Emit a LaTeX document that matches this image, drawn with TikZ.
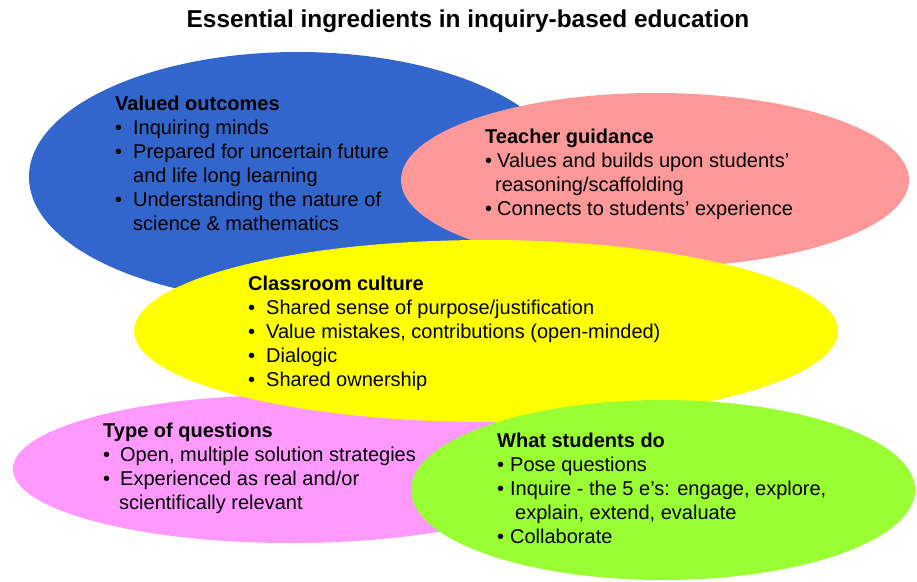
\documentclass[tikz,border=0pt]{standalone}
\usepackage{fontspec}
\setmainfont{Liberation Sans}
\usepackage{xcolor}
\usepackage{tikz}
\usetikzlibrary{shapes.geometric}

\definecolor{outcomeblue}{HTML}{3366CC}
\definecolor{guidepink}{HTML}{FF9999}
\definecolor{cultureyellow}{HTML}{FFFF00}
\definecolor{questionpink}{HTML}{FF99FF}
\definecolor{studentgreen}{HTML}{99FF33}

% bullet with its own gap before the text
\newcommand{\bul}[1][18pt]{\makebox[#1][l]{\textbullet}}

\begin{document}
\begin{tikzpicture}[
        x=1pt,
        y=-1pt,
        blob/.style={ellipse, draw=none, inner sep=0pt},
        txt/.style={anchor=north west, align=left, inner sep=0pt,
            font=\fontsize{20}{24}\selectfont}
    ]

        \useasboundingbox (0,0) rectangle (917,581);

        % =================================
        % ELLIPSES (back to front)
        % =================================

        % valued outcomes
        \node[blob, fill=outcomeblue, minimum width=538pt, minimum height=250pt]
            (outcomes) at (298,177) {};

        % teacher guidance
        \node[blob, fill=guidepink, minimum width=508pt, minimum height=174pt]
            (guidance) at (655,180) {};

        % type of questions
        \node[blob, fill=questionpink, minimum width=556pt, minimum height=148pt]
            (questions) at (291,469) {};

        % classroom culture
        \node[blob, fill=cultureyellow, minimum width=704pt, minimum height=182pt]
            (culture) at (486,331) {};

        % what students do
        \node[blob, fill=studentgreen, minimum width=504pt, minimum height=180pt]
            (students) at (663,490) {};


        % =================================
        % TITLE
        % =================================

        \node[anchor=base, font=\bfseries\fontsize{24.4}{29}\selectfont]
            (title) at (468,27) {Essential ingredients in inquiry-based education};


        % =================================
        % TEXTS
        % =================================

        \node[txt] (outcomestxt) at (115,93.2) {%
            \textbf{Valued outcomes}\strut\\
            \bul Inquiring minds\\
            \bul Prepared for uncertain future\\
            \hspace*{18pt}and life long learning\\
            \bul Understanding the nature of\\
            \hspace*{18pt}science \& mathematics};

        \node[txt] (guidancetxt) at (485,126.2) {%
            \textbf{Teacher guidance}\strut\\
            \bul[12pt]Values and builds upon students’\\
            \hspace*{10pt}reasoning/scaffolding\\
            \bul[12pt]Connects to students’ experience};

        \node[txt] (culturetxt) at (248,273.2) {%
            \textbf{Classroom culture}\strut\\
            \bul Shared sense of purpose/justification\\
            \bul Value mistakes, contributions (open-minded)\\
            \bul Dialogic\\
            \bul Shared ownership};

        \node[txt] (questionstxt) at (103,420.2) {%
            \textbf{Type of questions}\strut\\
            \bul[17pt]Open, multiple solution strategies\\
            \bul[17pt]Experienced as real and/or\\
            \hspace*{16pt}scientifically relevant};

        \node[txt] (studentstxt) at (497,430.2) {%
            \textbf{What students do}\strut\\
            \bul[13pt]Pose questions\\
            \bul[13pt]Inquire - the 5 e’s: engage, explore,\\
            \hspace*{18pt}explain, extend, evaluate\\
            \bul[13pt]Collaborate};

\end{tikzpicture}
\end{document}
